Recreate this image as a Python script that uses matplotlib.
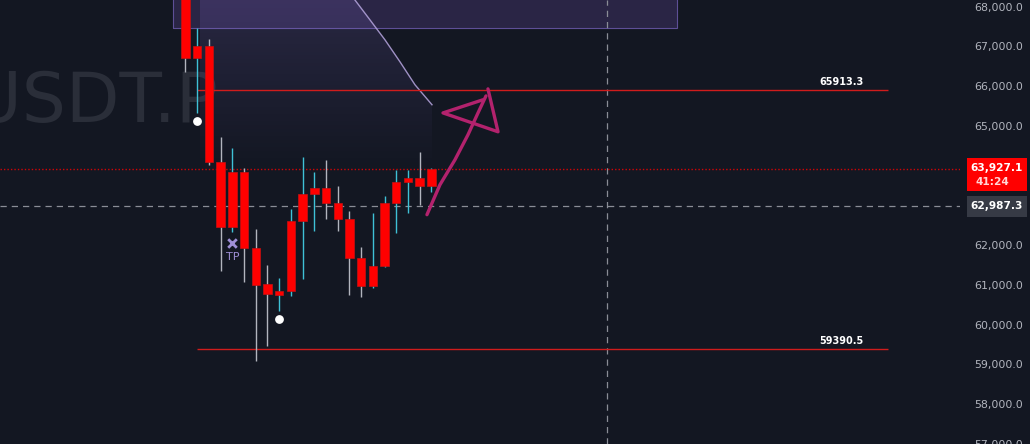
import matplotlib.pyplot as plt
import matplotlib.patches as mpatches
from matplotlib.path import Path
import numpy as np

# candles
opens  = [68600, 66710, 67010, 64100, 62470, 63830, 61920, 61020, 60740, 60840, 62600,
          63280, 63430, 63050, 62670, 61690, 60970, 61470, 63070, 63580, 63700, 63500]
closes = [66710, 67010, 64100, 62470, 63830, 61920, 60990, 60770, 60840, 62600, 63280,
          63430, 63050, 62670, 61690, 60970, 61470, 63070, 63580, 63700, 63500, 63927.1]
highs  = [68900, 67470, 67190, 64730, 64450, 63930, 62420, 61490, 61170, 62920, 64230,
          63850, 64150, 63480, 62850, 61950, 62820, 63230, 63900, 63900, 64350, 63930]
lows   = [66360, 65330, 64030, 61340, 62320, 61070, 59085, 59460, 60340, 60720, 61140,
          62370, 62650, 62370, 60740, 60690, 60920, 61440, 62300, 62820, 63000, 63350]

level_hi = 65913.3
level_lo = 59390.5
level_start, level_end = 1, 60
last_price = 63927.1
countdown = '41:24'
cross_price = 62987.3
cross_bar = 36

dots_x = [1, 8]
dots_y = [65133, 60138]
tp_x, tp_y, tp_text_y = 4, 62066, 61715

# top zone box
zone_x0, zone_x1 = -1.07, 41.97
zone_y0, zone_y1 = 67466, 68600

# projection curve (right edge of the shaded fan)
curve_x = [14.47, 15.76, 17.04, 18.32, 19.60, 21.05]
curve_y = [68168, 67666, 67164, 66612, 66035, 65533]
fan_left, fan_bottom = 1.24, 63900

# hand drawn arrow
shaft_x = [20.62, 21.73, 23.01, 24.12, 24.98, 25.66]
shaft_y = [62768, 63521, 64148, 64776, 65328, 65755]
head_x = [25.41, 21.99, 26.69, 25.83]
head_y = [65659, 65328, 64853, 65932]

# 63,000 and 64,000 sit under the price tags
yticks = [57000, 58000, 59000, 60000, 61000, 62000, 65000, 66000, 67000, 68000]

BG = '#131722'
UP_WICK = '#3fc1d6'
DN_WICK = '#b2b5be'
BODY = '#ff0000'

fig = plt.figure(figsize=(10.3, 4.44), dpi=100, facecolor=BG)
ax = fig.add_axes([0, 0, 960 / 1030, 1])
ax.set_facecolor(BG)
ax.set_xlim(-15.84, 66.14)
ax.set_ylim(57026, 68168)

# watermark
ax.text(0.227, 0.77, 'USDT.P', transform=ax.transAxes, ha='right', va='center',
        fontsize=50, color='#2a2e39', zorder=0)

# top zone
ax.add_patch(mpatches.Rectangle((zone_x0, zone_y0), zone_x1 - zone_x0, zone_y1 - zone_y0,
                                facecolor='#7e57c2', alpha=0.22, edgecolor='none', zorder=1))
ax.add_patch(mpatches.Rectangle((zone_x0, zone_y0), zone_x1 - zone_x0, zone_y1 - zone_y0,
                                facecolor='none', edgecolor='#5e4f96', lw=0.8, zorder=1))

# shaded fan with gradient
verts = [(fan_left, 68168)] + list(zip(curve_x, curve_y)) + [(curve_x[-1], fan_bottom), (fan_left, fan_bottom), (fan_left, 68168)]
codes = [Path.MOVETO] + [Path.LINETO] * (len(verts) - 2) + [Path.CLOSEPOLY]
fan = mpatches.PathPatch(Path(verts, codes), facecolor='none', edgecolor='none')
ax.add_patch(fan)
grad = np.zeros((100, 2, 4))
grad[..., 0], grad[..., 1], grad[..., 2] = 0.55, 0.45, 0.85
grad[..., 3] = np.linspace(0.18, 0.0, 100)[:, None]
im = ax.imshow(grad, extent=[fan_left, curve_x[-1], fan_bottom, 68168], origin='upper',
               aspect='auto', zorder=1, interpolation='bilinear')
im.set_clip_path(fan)
ax.plot(curve_x, curve_y, color='#b7a6e0', lw=1, alpha=0.85, zorder=2)

# crosshair + price lines
ax.axvline(cross_bar, color='#8a8d96', ls=(0, (5, 4)), lw=0.9, zorder=2)
ax.axhline(cross_price, color='#8a8d96', ls=(0, (5, 4)), lw=0.9, zorder=2)
ax.axhline(last_price, color=BODY, ls=(0, (1, 1.5)), lw=1, alpha=0.8, zorder=2)

for lvl in (level_hi, level_lo):
    ax.hlines(lvl, level_start, level_end, color='#d01c1c', lw=1, zorder=2)
    ax.annotate(f'{lvl}', (56, lvl), xytext=(0, 2), textcoords='offset points',
                ha='center', va='bottom', color='white', fontsize=7, fontweight='bold')

# candles
w = 0.72
for i, (o, h, l, c) in enumerate(zip(opens, highs, lows, closes)):
    wc = UP_WICK if c > o else DN_WICK
    ax.vlines(i, l, h, color=wc, lw=1, zorder=3)
    ax.add_patch(mpatches.Rectangle((i - w / 2, min(o, c)), w, abs(c - o),
                                    facecolor=BODY, edgecolor='#c81010', lw=0.5, zorder=4))

# markers
ax.scatter(dots_x, dots_y, s=28, color='white', zorder=6)
ax.scatter([tp_x], [tp_y], marker='x', s=38, color='#9f8fd6', linewidths=2, zorder=6)
ax.text(tp_x, tp_text_y, 'TP', ha='center', va='center', color='#9f8fd6', fontsize=8, zorder=6)

# arrow
ax.plot(shaft_x, shaft_y, color='#b3226d', lw=2.4, solid_capstyle='round', zorder=7)
ax.plot(head_x, head_y, color='#b3226d', lw=2.4, solid_capstyle='round',
        solid_joinstyle='round', zorder=7)

# right price scale
ax.yaxis.tick_right()
ax.set_yticks(yticks)
ax.set_yticklabels([f'{t:,.1f}' for t in yticks])
ax.tick_params(axis='y', length=0, pad=10.5, labelsize=7.9, labelcolor='#b2b5be')
ax.set_xticks([])
for s in ax.spines.values():
    s.set_visible(False)

# price tags on the scale
H = 444.0
def ypix(p):
    return ax.transData.transform((0, p))[1]

yl = ypix(last_price)
fig.add_artist(mpatches.Rectangle((967 / 1030, (yl - 22) / H), 60 / 1030, 33 / H,
                                  transform=fig.transFigure, facecolor='#ff0000', edgecolor='none'))
fig.text(1023 / 1030, (yl + 1) / H, f'{last_price:,.1f}', ha='right', va='center',
         color='white', fontsize=7.6, fontweight='bold')
fig.text(975 / 1030, (yl - 13) / H, countdown, ha='left', va='center',
         color='#ffd6d6', fontsize=7.6, fontweight='bold')

yc = ypix(cross_price)
fig.add_artist(mpatches.Rectangle((967 / 1030, (yc - 11) / H), 60 / 1030, 21 / H,
                                  transform=fig.transFigure, facecolor='#363a45', edgecolor='none'))
fig.text(1023 / 1030, yc / H, f'{cross_price:,.1f}', ha='right', va='center',
         color='white', fontsize=7.6, fontweight='bold')

fig.savefig('out.png', dpi=100, facecolor=BG)
